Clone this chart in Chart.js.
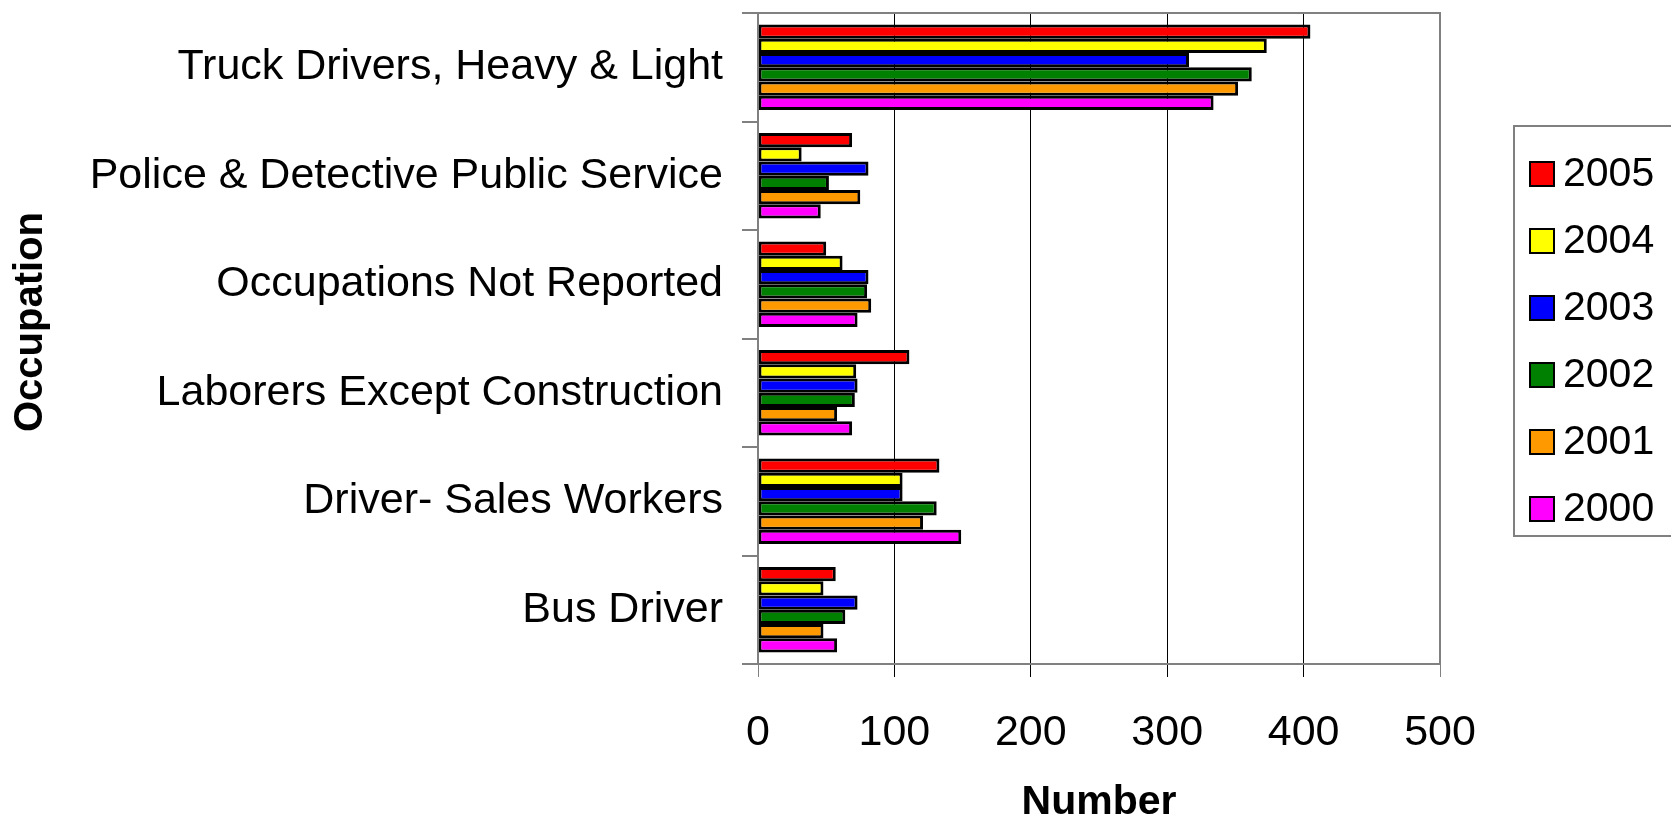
<!DOCTYPE html>
<html>
<head>
<meta charset="utf-8">
<script src="https://cdn.jsdelivr.net/npm/chart.js@4"></script>
<style>
  html, body { margin: 0; padding: 0; background: #fff; }
  canvas { display: block; }
</style>
</head>
<body>
<canvas id="myBarChart" width="1671" height="818"></canvas>
<script>
// categories top to bottom
var occupations = ["Truck Drivers, Heavy & Light", "Police & Detective Public Service",
  "Occupations Not Reported", "Laborers Except Construction", "Driver- Sales Workers", "Bus Driver"];

var years = ["2005", "2004", "2003", "2002", "2001", "2000"];
var yearColors = ["#FF0000", "#FFFF00", "#0000FF", "#008000", "#FF9900", "#FF00FF"];

var v2005 = [405, 69, 50, 111, 133, 57];
var v2004 = [373, 32, 62, 72, 106, 48];
var v2003 = [316, 81, 81, 73, 106, 73];
var v2002 = [362, 52, 80, 71, 131, 64];
var v2001 = [352, 75, 83, 58, 121, 48];
var v2000 = [334, 46, 73, 69, 149, 58];

var xTicks = [0, 100, 200, 300, 400, 500];

var FONT = "'Liberation Sans', Arial, sans-serif";

document.addEventListener("DOMContentLoaded", function () {
  var ctx = document.getElementById("myBarChart").getContext("2d");
  var series = [v2005, v2004, v2003, v2002, v2001, v2000];

  var datasets = years.map(function (y, i) {
    return {
      label: y,
      data: series[i],
      backgroundColor: yearColors[i],
      borderColor: "#000",
      borderWidth: 3,
      borderSkipped: false,
      categoryPercentage: 0.79,
      barPercentage: 1.0
    };
  });

  // frame around plot area, y title, boxed legend on the right
  var framePlugin = {
    id: "frame",
    afterDraw: function (chart) {
      var c = chart.ctx, a = chart.chartArea;
      c.save();
      c.strokeStyle = "#808080";
      c.lineWidth = 2;
      c.strokeRect(a.left, a.top, a.right - a.left, a.bottom - a.top);

      // y axis title
      c.save();
      c.translate(31, 322);
      c.rotate(-Math.PI / 2);
      c.font = "bold 40px " + FONT;
      c.fillStyle = "#000";
      c.textAlign = "center";
      c.textBaseline = "middle";
      c.fillText("Occupation", 0, 0);
      c.restore();

      // legend
      c.lineWidth = 2;
      c.strokeStyle = "#808080";
      c.strokeRect(1514, 126, 200, 410);
      c.font = "41px " + FONT;
      c.textBaseline = "middle";
      c.textAlign = "left";
      chart.data.datasets.forEach(function (ds, i) {
        var cy = 174 + i * 67;
        c.fillStyle = ds.backgroundColor;
        c.fillRect(1530, cy - 12, 24, 24);
        c.strokeStyle = "#000";
        c.lineWidth = 2;
        c.strokeRect(1530, cy - 12, 24, 24);
        c.fillStyle = "#000";
        c.fillText(ds.label, 1563, cy + 1);
      });
      c.restore();
    }
  };

  var config = {
    type: "bar",
    data: { labels: occupations, datasets: datasets },
    options: {
      indexAxis: "y",
      responsive: false,
      animation: false,
      layout: { padding: { top: 13, right: 231, bottom: 0, left: 0 } },
      plugins: { legend: { display: false }, tooltip: { enabled: false } },
      scales: {
        x: {
          min: 0,
          max: 500,
          afterBuildTicks: function (s) {
            s.ticks = xTicks.map(function (v) { return { value: v }; });
          },
          afterFit: function (s) {
            s.height = 154;
            s.paddingLeft = 0;
            s.paddingRight = 0;
          },
          grid: {
            color: function (c) {
              return (c.tick && (c.tick.value === 0 || c.tick.value === 500)) ? "#808080" : "#000";
            },
            lineWidth: 1,
            tickLength: 13
          },
          border: { color: "#808080", width: 2 },
          ticks: {
            color: "#000",
            padding: 30,
            font: { family: FONT, size: 43 }
          },
          title: {
            display: true,
            text: "Number",
            color: "#000",
            padding: { top: 0, bottom: -5 },
            font: { family: FONT, size: 41, weight: "bold", lineHeight: 1.0 }
          }
        },
        y: {
          afterFit: function (s) {
            s.width = 758;
            s.paddingTop = 0;
            s.paddingBottom = 0;
          },
          grid: {
            drawOnChartArea: false,
            color: "#808080",
            lineWidth: 2,
            tickLength: 16
          },
          border: { color: "#808080", width: 2 },
          ticks: {
            color: "#000",
            padding: 19,
            font: { family: FONT, size: 43 }
          }
        }
      }
    },
    plugins: [framePlugin]
  };

  var myBarChart = new Chart(ctx, config);
});
</script>
</body>
</html>
